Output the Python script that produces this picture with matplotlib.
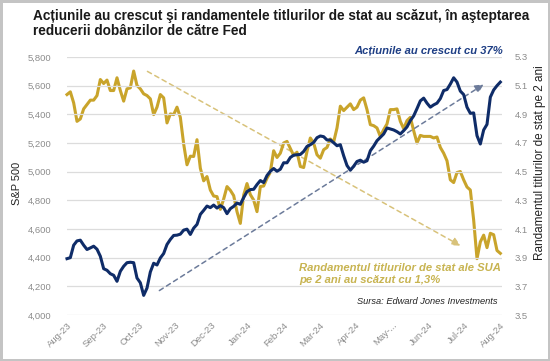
import matplotlib
matplotlib.use("Agg")
import matplotlib.pyplot as plt
import numpy as np

months = ["Aug-23", "Sep-23", "Oct-23", "Nov-23", "Dec-23", "Jan-24", "Feb-24",
          "Mar-24", "Apr-24", "May-...", "Jun-24", "Jul-24", "Aug-24"]

sp500 = [4393, 4400, 4487, 4517, 4522, 4487, 4457, 4468, 4480, 4459,
         4410, 4323, 4312, 4288, 4277, 4235, 4305, 4340, 4365, 4368,
         4365, 4258, 4225, 4137, 4188, 4300, 4361, 4349, 4398, 4429,
         4492, 4527, 4555, 4557, 4564, 4592, 4599, 4562, 4606, 4632,
         4702, 4730,
         4760, 4749, 4767, 4746, 4763, 4749, 4707, 4742, 4758, 4781,
         4772, 4819, 4861, 4875, 4877, 4910, 4938, 4924, 4973, 5003,
         5022, 5003, 5017, 5062, 5062, 5099, 5115, 5118, 5120, 5141,
         5176, 5188, 5204, 5237, 5249, 5244, 5221, 5221, 5202,
         5181, 5188, 5111, 5043, 5010, 5038, 5071, 5080, 5066, 5076,
         5146, 5178, 5216, 5239, 5263, 5305, 5298, 5291, 5279, 5263,
         5286, 5312, 5356, 5389, 5440, 5494, 5513, 5478, 5450, 5466,
         5478, 5510, 5566, 5573, 5611, 5655, 5625, 5562, 5538, 5450,
         5407, 5410, 5251, 5193, 5291,
         5330, 5520, 5570, 5600, 5625]

yield2y = [5.038, 5.057, 4.98, 4.851, 4.868, 4.938, 4.968, 4.999, 4.999, 5.031,
           5.143, 5.115, 5.139, 5.066, 5.066, 5.155, 5.066, 4.992, 5.078, 5.085,
           5.202, 5.101, 5.078, 5.043, 5.031, 5.008, 4.898, 4.95, 5.038, 5.015,
           4.84, 4.903, 4.898, 4.95, 4.879, 4.693, 4.548, 4.608, 4.606, 4.723,
           4.524, 4.436,
           4.466, 4.372, 4.33, 4.326, 4.237, 4.309, 4.396, 4.37, 4.333, 4.221,
           4.139, 4.337, 4.417, 4.34, 4.302, 4.221, 4.396, 4.40, 4.454, 4.496,
           4.646, 4.599, 4.629, 4.70, 4.711, 4.662, 4.613, 4.636, 4.536, 4.529,
           4.641, 4.735, 4.70, 4.618, 4.594, 4.653, 4.669, 4.728, 4.707,
           4.805, 4.957, 4.926, 4.95, 4.973, 4.933, 4.95, 4.999, 5.015, 4.933,
           4.828, 4.821, 4.805, 4.746, 4.793, 4.833, 4.933, 4.933, 4.938, 4.851,
           4.80, 4.856, 4.879, 4.786, 4.70, 4.753, 4.746, 4.746, 4.746, 4.735,
           4.742, 4.669, 4.629, 4.576, 4.443, 4.424, 4.494, 4.501, 4.443, 4.393,
           4.372, 4.162, 3.893, 4.01, 4.057,
           3.97, 4.07, 4.06, 3.95, 3.93]

left_ticks = [4000, 4200, 4400, 4600, 4800, 5000, 5200, 5400, 5600, 5800]
right_ticks = [3.5, 3.7, 3.9, 4.1, 4.3, 4.5, 4.7, 4.9, 5.1, 5.3]

# trend arrows (start, end) in data units
sp_arrow = [(27, 4160), (125.7, 5619)]
yld_arrow = [(23.4, 5.209), (118.8, 3.974)]

NAVY = "#0f2c68"
GOLD = "#c9a42b"
GOLD_TXT = "#c8b451"
GRAY = "#8c8c8c"

plt.rcParams['font.family'] = ['Liberation Sans', 'DejaVu Sans']

fig = plt.figure(figsize=(5.5, 3.61), dpi=100)
fig.patch.set_facecolor("white")
fig.patch.set_edgecolor("#c4c4c4")
fig.patch.set_linewidth(2.5)

ax = fig.add_axes([67/550, 1-315/361, (502-67)/550, (315-57)/361])
ax2 = ax.twinx()

x = np.arange(len(sp500))
n = len(sp500) - 1

ax.set_ylim(4000, 5800)
ax2.set_ylim(3.5, 5.3)
ax.set_xlim(0, n + 0.5)

ax.set_yticks(left_ticks)
ax.set_yticklabels([f"{v:,}" for v in left_ticks])
ax2.set_yticks(right_ticks)
ax2.set_yticklabels([f"{v:.1f}" for v in right_ticks])

ax.set_xticks(np.linspace(0, n, len(months)))
ax.set_xticklabels(months, rotation=45, ha="right", rotation_mode="anchor")

for a in (ax, ax2):
    for s in a.spines.values():
        s.set_visible(False)
    a.tick_params(length=0, labelsize=6.8, colors=GRAY)
ax.tick_params(axis="y", pad=11)
ax2.tick_params(axis="y", pad=9)
ax.tick_params(axis="x", pad=4)

ax.grid(axis="y", color="#dcdcdc", linewidth=0.9)
ax.set_axisbelow(True)

ax2.plot(x, yield2y, color=GOLD, lw=2.2, solid_joinstyle="round", clip_on=False, zorder=3)
ax.plot(x, sp500, color=NAVY, lw=2.2, solid_joinstyle="round", clip_on=False, zorder=4)
ax.set_zorder(ax2.get_zorder() + 1)
ax.patch.set_visible(False)

ax2.annotate("", xy=yld_arrow[1], xytext=yld_arrow[0],
             arrowprops=dict(arrowstyle="-|>,head_length=0.5,head_width=0.25",
                             color="#d8c27a", lw=1.1, linestyle=(0, (3, 2.5))), zorder=2)
ax.annotate("", xy=sp_arrow[1], xytext=sp_arrow[0],
            arrowprops=dict(arrowstyle="-|>,head_length=0.5,head_width=0.25",
                            color="#6c7b9a", lw=1.1, linestyle=(0, (3, 2.5))), zorder=2)

fig.text(33/550, 1-9/361,
         "Acțiunile au crescut şi randamentele titlurilor de stat au scăzut, în aşteptarea\nreducerii dobânzilor de către Fed",
         fontsize=9.8, fontweight="bold", color="#1a1a1a", va="top", ha="left", linespacing=1.05)

fig.text(503/550, 1-51/361, "Acțiunile au crescut cu 37%", fontsize=8.1, fontweight="bold",
         style="italic", color="#1f3f85", ha="right", va="center")
fig.text(299/550, 1-274/361, "Randamentul titlurilor de stat ale SUA\npe 2 ani au scăzut cu 1,3%",
         fontsize=8.1, fontweight="bold", style="italic", color=GOLD_TXT, ha="left", va="center",
         linespacing=1.15)
fig.text(498/550, 1-302/361, "Sursa: Edward Jones Investments", fontsize=6.7, style="italic",
         color="#222222", ha="right", va="center")

fig.text(17/550, 1-183/361, "S&P 500", rotation=90, fontsize=7.9, color="#222222",
         ha="center", va="center")
fig.text(540/550, 1-163/361, "Randamentul titlurilor de stat pe 2 ani", rotation=90,
         fontsize=8.5, color="#222222", ha="center", va="center")

fig.savefig("out.png", dpi=100, facecolor=fig.get_facecolor(), edgecolor=fig.get_edgecolor())
